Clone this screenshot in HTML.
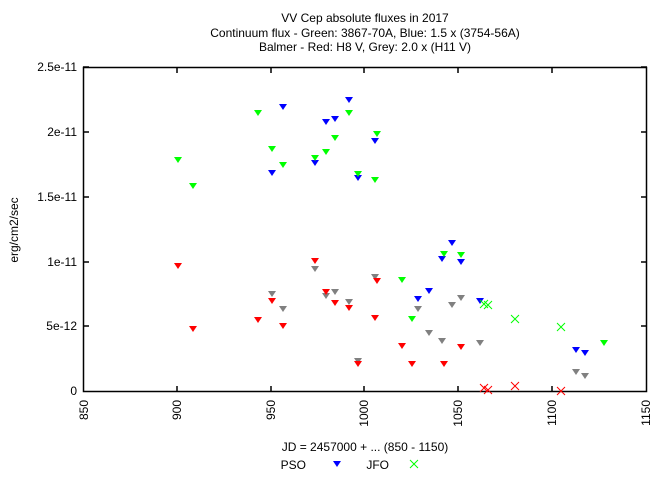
<!DOCTYPE html>
<html><head><meta charset="utf-8"><style>body{margin:0;background:#fff}svg{display:block}text{font-family:"Liberation Sans",sans-serif;font-size:12px;fill:#000}</style></head><body>
<svg width="669" height="479" xmlns="http://www.w3.org/2000/svg">
<defs>
<path id="t" d="M-4,-3 L4,-3 L0,3 Z"/>
<path id="x" d="M-4,-4 L4,4 M-4,4 L4,-4"/>
</defs>
<text x="365" y="22" text-anchor="middle">VV Cep absolute fluxes in 2017</text>
<text x="365" y="37" text-anchor="middle">Continuum flux - Green: 3867-70A, Blue: 1.5 x (3754-56A)</text>
<text x="365" y="51" text-anchor="middle">Balmer - Red: H8 V, Grey: 2.0 x (H11 V)</text>
<rect x="83.5" y="67.5" width="563" height="324" fill="none" stroke="#000" stroke-width="1.5"/>
<g stroke="#000" stroke-width="1.5">
<path d="M83,67h6M83,132h6M83,197h6M83,262h6M83,326h6M647,67h-6M647,132h-6M647,197h-6M647,262h-6M647,326h-6"/>
<path d="M177,392v-6M271,392v-6M364,392v-6M458,392v-6M552,392v-6M177,67v6M271,67v6M364,67v6M458,67v6M552,67v6"/>
</g>
<g text-anchor="end">
<text x="77" y="71">2.5e-11</text><text x="77" y="136">2e-11</text><text x="77" y="201">1.5e-11</text><text x="77" y="266">1e-11</text><text x="77" y="330">5e-12</text><text x="77" y="395">0</text>
</g>
<g text-anchor="end">
<text transform="translate(88,400) rotate(-90)">850</text>
<text transform="translate(181,400) rotate(-90)">900</text>
<text transform="translate(275,400) rotate(-90)">950</text>
<text transform="translate(368,400) rotate(-90)">1000</text>
<text transform="translate(462,400) rotate(-90)">1050</text>
<text transform="translate(556,400) rotate(-90)">1100</text>
<text transform="translate(650,400) rotate(-90)">1150</text>
</g>
<text transform="translate(18,230) rotate(-90)" text-anchor="middle">erg/cm2/sec</text>
<text x="365" y="451" text-anchor="middle">JD = 2457000 + ... (850 - 1150)</text>
<text x="306" y="469" text-anchor="end">PSO</text>
<use href="#t" x="337" y="464" fill="#00f"/>
<text x="389" y="469" text-anchor="end">JFO</text>
<use href="#x" x="414" y="464" stroke="#0f0" fill="none"/>
<g fill="#808080">
<use href="#t" x="272" y="294"/><use href="#t" x="283" y="309"/><use href="#t" x="315" y="269"/><use href="#t" x="326" y="296"/><use href="#t" x="335" y="292"/><use href="#t" x="349" y="302"/><use href="#t" x="375" y="277"/><use href="#t" x="358" y="361"/><use href="#t" x="418" y="309"/><use href="#t" x="429" y="333"/><use href="#t" x="442" y="341"/><use href="#t" x="452" y="305"/><use href="#t" x="461" y="298"/><use href="#t" x="480" y="343"/><use href="#t" x="576" y="372"/><use href="#t" x="585" y="376"/>
</g>
<g fill="#f00">
<use href="#t" x="178" y="266"/><use href="#t" x="193" y="329"/><use href="#t" x="258" y="320"/><use href="#t" x="272" y="301"/><use href="#t" x="283" y="326"/><use href="#t" x="315" y="261"/><use href="#t" x="326" y="292"/><use href="#t" x="335" y="303"/><use href="#t" x="349" y="308"/><use href="#t" x="377" y="281"/><use href="#t" x="375" y="318"/><use href="#t" x="358" y="364"/><use href="#t" x="402" y="346"/><use href="#t" x="412" y="364"/><use href="#t" x="444" y="364"/><use href="#t" x="461" y="347"/>
</g>
<g stroke="#f00" fill="none"><use href="#x" x="484" y="388"/><use href="#x" x="488" y="390"/><use href="#x" x="515" y="386"/><use href="#x" x="561" y="391"/></g>
<g fill="#00f">
<use href="#t" x="283" y="107"/><use href="#t" x="272" y="173"/><use href="#t" x="315" y="163"/><use href="#t" x="326" y="122"/><use href="#t" x="335" y="119"/><use href="#t" x="349" y="100"/><use href="#t" x="358" y="178"/><use href="#t" x="375" y="141"/><use href="#t" x="418" y="299"/><use href="#t" x="429" y="291"/><use href="#t" x="442" y="259"/><use href="#t" x="452" y="243"/><use href="#t" x="461" y="262"/><use href="#t" x="480" y="301"/><use href="#t" x="576" y="350"/><use href="#t" x="585" y="353"/>
</g>
<g fill="#0f0">
<use href="#t" x="178" y="160"/><use href="#t" x="193" y="186"/><use href="#t" x="258" y="113"/><use href="#t" x="272" y="149"/><use href="#t" x="283" y="165"/><use href="#t" x="315" y="158"/><use href="#t" x="326" y="152"/><use href="#t" x="335" y="138"/><use href="#t" x="349" y="113"/><use href="#t" x="358" y="174"/><use href="#t" x="377" y="134"/><use href="#t" x="375" y="180"/><use href="#t" x="402" y="280"/><use href="#t" x="412" y="319"/><use href="#t" x="444" y="254"/><use href="#t" x="461" y="255"/><use href="#t" x="604" y="343"/>
</g>
<g stroke="#0f0" fill="none"><use href="#x" x="484" y="304"/><use href="#x" x="488" y="305"/><use href="#x" x="515" y="319"/><use href="#x" x="561" y="327"/></g>
</svg>
</body></html>
